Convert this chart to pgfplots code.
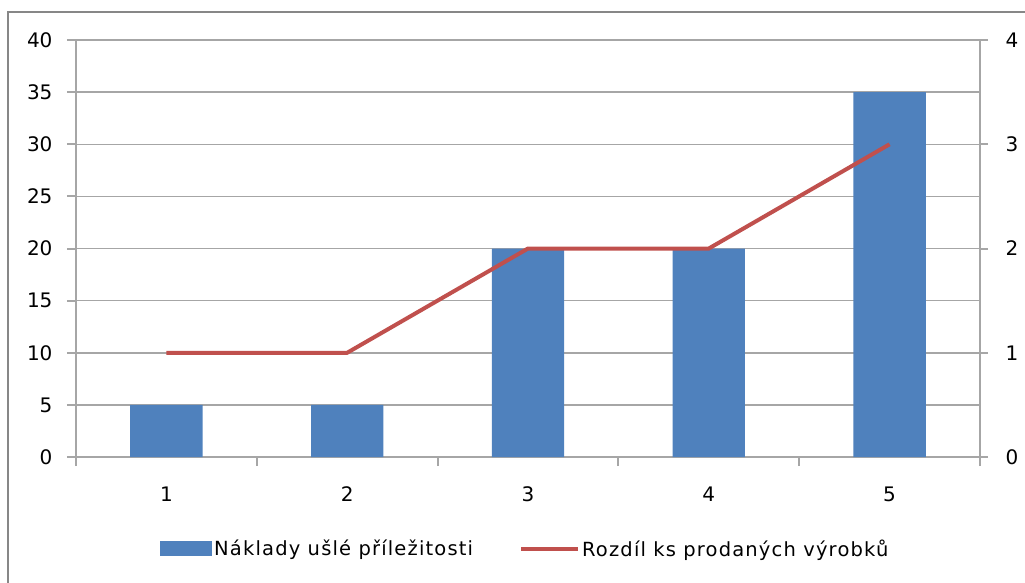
\documentclass[border=0pt]{standalone}
\usepackage{pgfplots}
\pgfplotsset{compat=1.18}
\usepackage{fontspec}
\setmainfont{DejaVu Sans}
\definecolor{barblue}{HTML}{4F81BD}
\definecolor{linered}{HTML}{C0504D}
\definecolor{gridgray}{HTML}{A6A6A6}
\definecolor{framegray}{HTML}{878787}
\newcommand{\lbl}{\fontsize{20}{24}\selectfont}
\newcommand{\leg}{\fontsize{19.5}{24}\selectfont\addfontfeature{LetterSpace=6}}
\begin{document}
\begin{tikzpicture}[x=1pt,y=1pt]
\useasboundingbox (-76,-125) rectangle (949,457);
\draw[framegray, line width=2pt] (-68,-140) -- (-68,445) -- (960,445);
\begin{axis}[
 at={(0,0)}, anchor=south west,
 scale only axis, width=904pt, height=417pt,
 xmin=0.5, xmax=5.5, ymin=0, ymax=40,
 ybar, bar width=0.4,
 xtick={0.5,1.5,...,5.5}, xticklabels={,,,,,,},
 extra x ticks={1,2,3,4,5}, extra x tick labels={1,2,3,4,5},
 extra x tick style={major tick length=0pt, grid=none, xticklabel style={yshift=-26pt}},
 ytick={0,5,...,40},
 tick align=outside, major tick length=9pt,
 axis x line*=bottom, axis y line*=left,
 ymajorgrids, grid style={gridgray, line width=1.5pt},
 axis line style={gridgray, line width=2pt},
 tick style={gridgray, line width=2pt},
 /pgf/number format/assume math mode=true,
 ticklabel style={font=\lbl, text=black},
 yticklabel style={xshift=-11pt},
 legend style={at={(0.497,-0.22)}, anchor=center, draw=none, fill=none, legend columns=2, font=\leg,
   /tikz/every even column/.append style={column sep=44pt}},
 legend cell align=left,
]
\addplot[fill=barblue, draw=none, legend image code/.code={\fill[barblue] (0pt,-7.5pt) rectangle (52pt,7.5pt);}]
 coordinates {(1,5) (2,5) (3,20) (4,20) (5,35)};
\addlegendentry{Náklady ušlé příležitosti}
\addlegendimage{legend image code/.code={\draw[linered, line width=4pt] (0pt,0pt) -- (57pt,0pt);}}
\addlegendentry{Rozdíl ks prodaných výrobků}
\end{axis}
\begin{axis}[
 at={(0,0)}, anchor=south west,
 scale only axis, width=904pt, height=417pt,
 xmin=0.5, xmax=5.5, ymin=0, ymax=4,
 axis y line*=right, axis x line=none,
 ytick={0,1,...,4},
 tick align=outside, major tick length=8pt,
 axis line style={gridgray, line width=2pt},
 tick style={gridgray, line width=2pt},
 /pgf/number format/assume math mode=true,
 ticklabel style={font=\lbl, text=black},
 yticklabel style={xshift=14pt},
]
\addplot[linered, line width=4pt] coordinates {(1,1) (2,1) (3,2) (4,2) (5,3)};
\end{axis}
\end{tikzpicture}
\end{document}
